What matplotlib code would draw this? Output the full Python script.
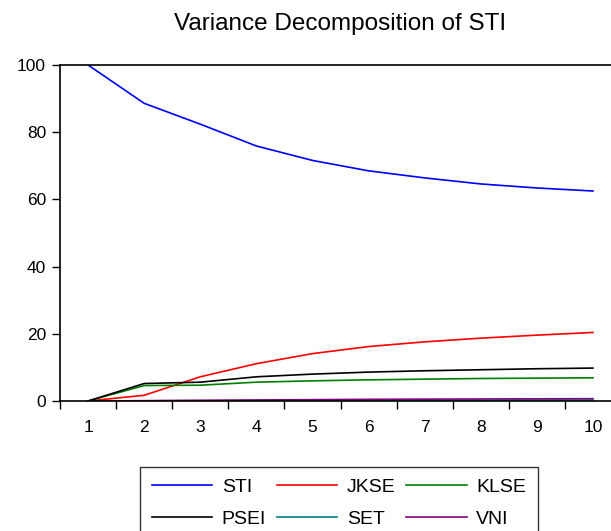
import matplotlib.pyplot as plt
from matplotlib.ticker import FixedLocator

plt.rcParams['font.family'] = ['Liberation Sans', 'DejaVu Sans']

periods = [1, 2, 3, 4, 5, 6, 7, 8, 9, 10]
sti = [100.0, 88.6, 82.4, 75.9, 71.6, 68.5, 66.4, 64.6, 63.4, 62.5]
jkse = [0.0, 1.7, 7.2, 11.1, 14.1, 16.2, 17.6, 18.7, 19.6, 20.4]
klse = [0.0, 4.6, 4.7, 5.6, 6.0, 6.3, 6.5, 6.7, 6.8, 6.9]
psei = [0.0, 5.2, 5.6, 7.2, 8.0, 8.6, 9.0, 9.3, 9.6, 9.8]
set_ = [0.0, 0.05, 0.1, 0.15, 0.2, 0.2, 0.25, 0.25, 0.3, 0.3]
vni = [0.0, 0.1, 0.2, 0.3, 0.4, 0.5, 0.55, 0.6, 0.65, 0.7]

names = ['STI', 'JKSE', 'KLSE', 'PSEI', 'SET', 'VNI']
series = [sti, jkse, klse, psei, set_, vni]
colors = ['#0000ff', '#ff0000', '#008000', '#000000', '#008080', '#800080']

fig = plt.figure(figsize=(6.11, 5.31), dpi=100)
ax = fig.add_axes([60/611, 1 - 401/531, 561/611, 336/531])

lines = []
for vals, name, c in zip(series, names, colors):
    ln, = ax.plot(periods, vals, color=c, lw=1.2, label=name)
    lines.append(ln)

ax.set_xlim(0.5, 10.5)
ax.set_ylim(0, 100)
ax.set_xticks(periods)
ax.xaxis.set_minor_locator(FixedLocator([p - 0.5 for p in periods] + [10.5]))
ax.tick_params(axis='x', which='major', length=0, pad=14, labelsize=12.5)
ax.tick_params(axis='x', which='minor', length=6, width=1, direction='out')
ax.set_yticks([0, 20, 40, 60, 80, 100])
ax.tick_params(axis='y', length=6, width=1, pad=4, labelsize=12.5)
ax.spines['right'].set_visible(False)
for s in ['left', 'bottom', 'top']:
    ax.spines[s].set_linewidth(1.2)

ax.set_title('Variance Decomposition of STI', fontsize=17.5, pad=25)

# legend fills by column, so reorder to read row by row
order = [0, 3, 1, 4, 2, 5]
leg = fig.legend([lines[i] for i in order], [names[i] for i in order],
                 loc='upper center', bbox_to_anchor=(339/611, 1 - 467/531),
                 ncol=3, fontsize=14, frameon=True, fancybox=False,
                 handlelength=3.1, handletextpad=0.5, columnspacing=0.55,
                 labelspacing=0.7, borderpad=0.6, borderaxespad=0)
leg.get_frame().set_edgecolor('black')
leg.get_frame().set_linewidth(1)

fig.savefig('out.png', dpi=100)
